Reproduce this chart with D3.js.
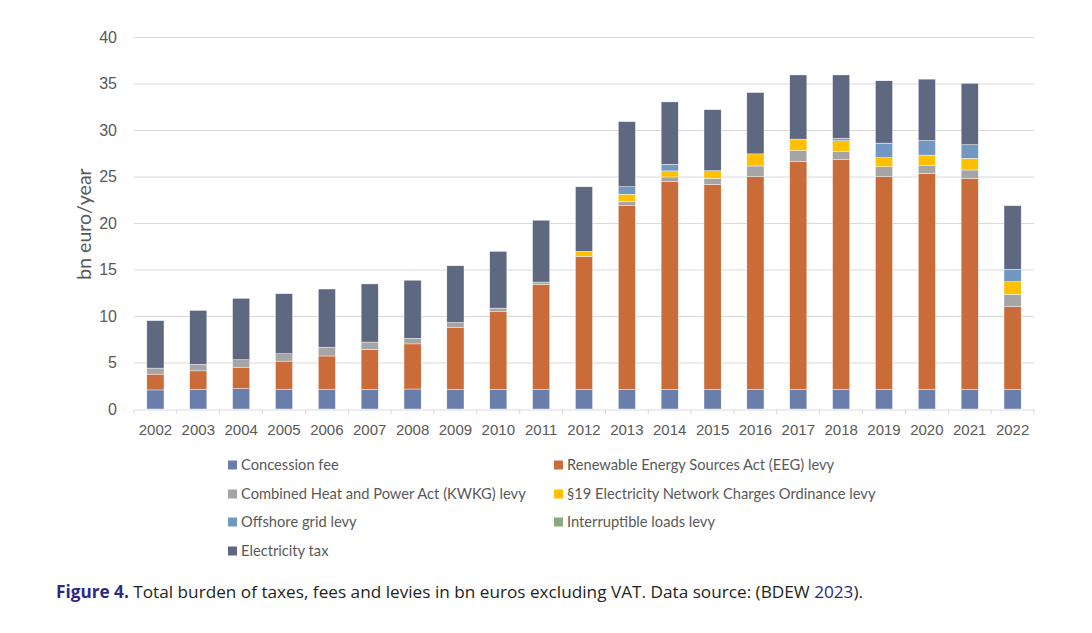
<!DOCTYPE html>
<html>
<head>
<meta charset="utf-8">
<script src="https://cdn.jsdelivr.net/npm/d3@7"></script>
<style>
  body { margin: 0; background: #fff; }
  svg { display: block; }
</style>
</head>
<body>
<div id="chart"></div>
<script>
// years on the x axis
var years = ["2002", "2003", "2004", "2005", "2006", "2007", "2008", "2009", "2010", "2011", "2012",
  "2013", "2014", "2015", "2016", "2017", "2018", "2019", "2020", "2021", "2022"];

// series values, bn euro/year
var concessionFee = [2.05, 2.1, 2.2, 2.1, 2.1, 2.1, 2.15, 2.1, 2.1, 2.1, 2.1, 2.1, 2.1, 2.1, 2.1, 2.1, 2.1, 2.1, 2.1, 2.1, 2.1];
var eegLevy = [1.7, 2.0, 2.3, 3.05, 3.6, 4.3, 4.85, 6.65, 8.35, 11.3, 14.28, 19.75, 22.35, 22.06, 22.88, 24.5, 24.7, 22.88, 23.24, 22.7, 8.9];
var kwkgLevy = [0.65, 0.7, 0.8, 0.8, 0.95, 0.8, 0.6, 0.55, 0.4, 0.25, 0.05, 0.45, 0.5, 0.65, 1.15, 1.2, 0.9, 1.07, 0.82, 0.9, 1.33];
var par19Levy = [0, 0, 0, 0, 0, 0, 0, 0, 0, 0, 0.53, 0.8, 0.65, 0.8, 1.3, 1.2, 1.15, 0.97, 1.14, 1.25, 1.36];
var offshoreLevy = [0, 0, 0, 0, 0, 0, 0, 0, 0, 0, 0, 0.8, 0.7, 0, 0, 0, 0.25, 1.55, 1.55, 1.45, 1.33];
var interruptibleLevy = [0, 0, 0, 0, 0, 0, 0, 0, 0, 0, 0, 0, 0.02, 0.02, 0, 0.02, 0.02, 0.02, 0.02, 0.02, 0];
var electricityTax = [5.1, 5.8, 6.6, 6.45, 6.25, 6.25, 6.25, 6.1, 6.1, 6.65, 6.93, 7.0, 6.7, 6.55, 6.6, 6.9, 6.8, 6.7, 6.6, 6.6, 6.84];

var seriesNames = [
  "Concession fee",
  "Renewable Energy Sources Act (EEG) levy",
  "Combined Heat and Power Act (KWKG) levy",
  "§19 Electricity Network Charges Ordinance levy",
  "Offshore grid levy",
  "Interruptible loads levy",
  "Electricity tax"
];
var seriesValues = [concessionFee, eegLevy, kwkgLevy, par19Levy, offshoreLevy, interruptibleLevy, electricityTax];
var seriesColors = ["#6A7EAC", "#C96C3A", "#A5A5A5", "#FFC000", "#7098C3", "#8EA87B", "#5F6881"];

var yTicks = [0, 5, 10, 15, 20, 25, 30, 35, 40];

// build table for d3.stack
var table = years.map(function (yr, i) {
  var row = { year: yr };
  seriesNames.forEach(function (name, k) { row[name] = seriesValues[k][i]; });
  return row;
});

var W = 1092, H = 633;
var plot = { left: 134, right: 1034, top: 37, bottom: 409 };

var svg = d3.select("#chart").append("svg")
  .attr("width", W)
  .attr("height", H)
  .style("font-family", "Lato, 'Open Sans', sans-serif");

var x = d3.scaleBand().domain(years).range([plot.left, plot.right])
  .paddingInner(0.6).paddingOuter(0.3);
var y = d3.scaleLinear().domain([0, 40]).range([plot.bottom, plot.top]);

// gridlines
svg.append("g")
  .selectAll("line")
  .data(yTicks.filter(function (d) { return d > 0; }))
  .enter().append("line")
  .attr("x1", plot.left).attr("x2", plot.right)
  .attr("y1", function (d) { return y(d) + 0.5; })
  .attr("y2", function (d) { return y(d) + 0.5; })
  .attr("stroke", "#D9D9D9")
  .attr("stroke-width", 1);

// y axis labels (no line)
var yAxis = svg.append("g")
  .attr("transform", "translate(" + plot.left + ",0)")
  .call(d3.axisLeft(y).tickValues(yTicks).tickSize(0).tickPadding(17));
yAxis.select(".domain").remove();
yAxis.selectAll("text")
  .attr("fill", "#595959")
  .style("font-size", "16px");

// stacked bars
var stack = d3.stack().keys(seriesNames);
var layers = stack(table);

svg.append("g")
  .selectAll("g")
  .data(layers)
  .enter().append("g")
  .attr("fill", function (d, i) { return seriesColors[i]; })
  .selectAll("rect")
  .data(function (d) { return d; })
  .enter().append("rect")
  .attr("x", function (d) { return x(d.data.year); })
  .attr("width", x.bandwidth())
  .attr("y", function (d) { return y(d[1]); })
  .attr("height", function (d) { return Math.max(0, y(d[0]) - y(d[1])); })
  .attr("stroke", "#fff")
  .attr("stroke-width", function (d) { return (d[1] - d[0]) > 0.1 ? 0.4 : 0; });

// x axis
var xAxis = svg.append("g")
  .attr("transform", "translate(0," + (plot.bottom + 0.5) + ")")
  .call(d3.axisBottom(x).tickSize(0).tickPadding(15));
xAxis.select(".domain").attr("stroke", "#D9D9D9");
xAxis.selectAll("text")
  .attr("fill", "#595959")
  .style("font-size", "15px");

// tick marks between categories
var step = x.step();
var bounds = d3.range(years.length + 1).map(function (i) {
  return i === 0 ? plot.left : x(years[i - 1]) + x.bandwidth() + step * 0.3;
});
xAxis.selectAll("line.sep")
  .data(bounds)
  .enter().append("line")
  .attr("class", "sep")
  .attr("x1", function (d) { return d; })
  .attr("x2", function (d) { return d; })
  .attr("y1", 0).attr("y2", 5)
  .attr("stroke", "#D9D9D9");

// y axis title
svg.append("text")
  .attr("transform", "translate(91,224) rotate(-90)")
  .attr("text-anchor", "middle")
  .attr("fill", "#595959")
  .style("font-size", "19.5px")
  .text("bn euro/year");

// legend
var legendCols = [228, 554];
var legendRows = [465, 494, 522, 551];
var legend = svg.append("g")
  .selectAll("g")
  .data(seriesNames)
  .enter().append("g")
  .attr("transform", function (d, i) {
    return "translate(" + legendCols[i % 2] + "," + legendRows[Math.floor(i / 2)] + ")";
  });
legend.append("rect")
  .attr("x", 0).attr("y", -4.5)
  .attr("width", 9).attr("height", 9)
  .attr("fill", function (d, i) { return seriesColors[i]; });
legend.append("text")
  .attr("x", 13)
  .attr("dy", "0.35em")
  .attr("fill", "#595959")
  .style("font-size", "14.7px")
  .text(function (d) { return d; });

// caption
var caption = svg.append("text")
  .attr("x", 56)
  .attr("y", 598)
  .style("font-family", "'Open Sans', sans-serif")
  .style("font-size", "17.2px")
  .attr("fill", "#231F20");
caption.append("tspan")
  .attr("font-weight", "bold")
  .attr("fill", "#2E2A7F")
  .text("Figure 4.");
caption.append("tspan").text(" Total burden of taxes, fees and levies in bn euros excluding VAT. Data source: (BDEW ");
caption.append("tspan").attr("fill", "#2E2A7F").text("2023");
caption.append("tspan").text(").");
</script>
</body>
</html>
